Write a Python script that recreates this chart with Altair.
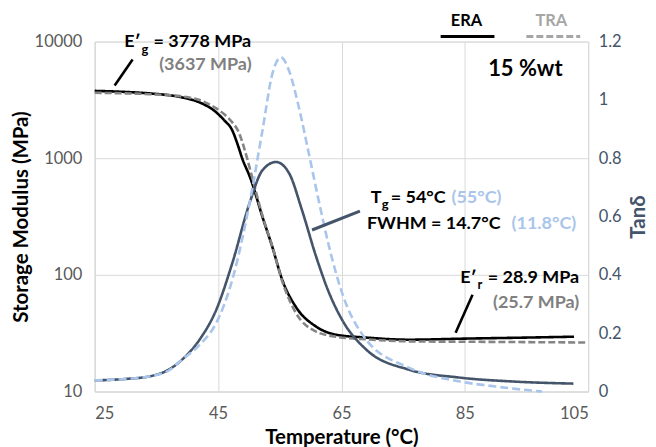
import altair as alt
import pandas as pd

# ---- data ----
T_mod_era = [25, 30, 33.9, 39.2, 42.0, 44.7, 46.0, 47.3, 48.1, 48.9, 50.3, 52.2, 53.8, 55.4, 57.6, 60.9, 64.1, 69.0, 75.9, 85, 95.3, 102.7]
E_mod_era = [3778, 3700, 3594, 3319, 3010, 2473, 2113, 1733, 1343, 1000, 660, 313, 173, 90.6, 53.2, 36.0, 30.7, 29.0, 27.8, 28.4, 29.0, 29.5]

T_mod_tra = [25, 30, 33.9, 39.2, 42.0, 44.7, 46.0, 47.3, 48.2, 49.7, 50.3, 52.2, 53.8, 55.4, 57.6, 60.9, 64.1, 69.0, 75.9, 85, 95, 104.8]
E_mod_tra = [3637, 3600, 3540, 3380, 3150, 2675, 2380, 2030, 1733, 1000, 760, 320, 175, 88, 47.3, 32.6, 29.5, 28.0, 26.9, 26.7, 26.5, 26.3]

T_tan_era = [25, 30, 33.9, 37, 39.2, 42.0, 44.7, 47.3, 50.1, 52.2, 54.4, 56.5, 58.6, 60.9, 63.0, 65.1, 69.0, 75.9, 84, 93, 102.6]
tan_era = [0.038, 0.043, 0.052, 0.075, 0.11, 0.178, 0.28, 0.44, 0.646, 0.759, 0.787, 0.749, 0.622, 0.462, 0.338, 0.246, 0.144, 0.075, 0.048, 0.034, 0.027]

T_tan_tra = [25, 30, 33.9, 37, 39.2, 42.0, 44.7, 47.3, 50.1, 52.2, 53.8, 55.2, 56.5, 58.1, 59.7, 61.4, 63.0, 65.1, 69.0, 75.9, 84, 90, 96, 97.5]
tan_tra = [0.038, 0.043, 0.052, 0.072, 0.11, 0.16, 0.235, 0.383, 0.646, 0.896, 1.09, 1.146, 1.10, 0.974, 0.817, 0.646, 0.496, 0.338, 0.178, 0.082, 0.035, 0.017, 0.003, 0.0]

x_ticks = [25, 45, 65, 85, 105]
y_left_ticks = [10, 100, 1000, 10000]
y_right_ticks = [0, 0.2, 0.4, 0.6, 0.8, 1, 1.2]

keys = ["E_ERA", "E_TRA", "tan_ERA", "tan_TRA"]
colors = ["#000000", "#858585", "#44546A", "#A9C5EB"]
dashes = [[1, 0], [7, 3], [1, 0], [8, 4]]

df_mod = pd.concat([
    pd.DataFrame({"T": T_mod_era, "v": E_mod_era, "key": "E_ERA"}),
    pd.DataFrame({"T": T_mod_tra, "v": E_mod_tra, "key": "E_TRA"}),
])
df_tan = pd.concat([
    pd.DataFrame({"T": T_tan_era, "v": tan_era, "key": "tan_ERA"}),
    pd.DataFrame({"T": T_tan_tra, "v": tan_tra, "key": "tan_TRA"}),
])

FONT = "Lato"
GRID = "#D9D9D9"
OX, OY = 95, 41  # page position of plot origin
TICK_FS = 16.5
TITLE_FS = 20.5

color_enc = alt.Color("key:N", scale=alt.Scale(domain=keys, range=colors), legend=None)
dash_enc = alt.StrokeDash("key:N", scale=alt.Scale(domain=keys, range=dashes), legend=None)

x_enc = alt.X("T:Q", scale=alt.Scale(domain=[25, 105], nice=False, zero=False),
              axis=alt.Axis(values=x_ticks, title="Temperature (°C)", grid=True, gridColor=GRID,
                            domainColor=GRID, ticks=False, tickSize=0, labelPadding=14,
                            labelFont=FONT, labelFontSize=TICK_FS, labelColor="#595959",
                            titleFont=FONT, titleFontSize=TITLE_FS, titleFontWeight="bold",
                            titleColor="#000000", titleY=46, titleBaseline="middle"))

mod = alt.Chart(df_mod).mark_line(interpolate="monotone", strokeWidth=2.6).encode(
    x=x_enc,
    y=alt.Y("v:Q", scale=alt.Scale(type="log", domain=[10, 10000], nice=False),
            axis=alt.Axis(values=y_left_ticks, format="d", title="Storage Modulus (MPa)",
                          grid=True, gridColor=GRID, domainColor=GRID, ticks=False, tickSize=0,
                          labelPadding=13, labelFont=FONT, labelFontSize=TICK_FS, labelColor="#595959",
                          titleFont=FONT, titleFontSize=TITLE_FS, titleFontWeight="bold",
                          titleColor="#000000", titleX=-73, titleY=175.5, titleAngle=270,
                          titleBaseline="middle", titleAlign="center")),
    color=color_enc, strokeDash=dash_enc, detail="key:N",
)

tan = alt.Chart(df_tan).mark_line(interpolate="monotone", strokeWidth=2.6).encode(
    x=x_enc,
    y=alt.Y("v:Q", scale=alt.Scale(domain=[0, 1.2], nice=False),
            axis=alt.Axis(orient="right", values=y_right_ticks, format="~g", title="Tanδ",
                          grid=False, domain=False, ticks=False, tickSize=0, labelPadding=10,
                          labelFont=FONT, labelFontSize=TICK_FS, labelColor="#44546A",
                          titleFont=FONT, titleFontSize=TITLE_FS, titleFontWeight="bold",
                          titleColor="#44546A", titleX=50, titleY=175.5, titleAngle=270,
                          titleBaseline="middle", titleAlign="center")),
    color=color_enc, strokeDash=dash_enc, detail="key:N",
)

one = pd.DataFrame({"k": [0]})


def txt(s, px, py, size=18, color="#000000", align="left"):
    return alt.Chart(one).mark_text(text=s, font=FONT, fontSize=size, fontWeight="bold",
                                    color=color, align=align, baseline="middle").encode(
        x=alt.value(px - OX), y=alt.value(py - OY))


def seg(x1, y1, x2, y2, color="#000000", width=2.6, dash=None):
    kw = dict(color=color, strokeWidth=width)
    if dash is not None:
        kw["strokeDash"] = dash
    return alt.Chart(one).mark_rule(**kw).encode(
        x=alt.value(x1 - OX), y=alt.value(y1 - OY), x2=alt.value(x2 - OX), y2=alt.value(y2 - OY))


GRAY = "#808080"
LBLUE = "#A9C5EB"
SLATE = "#44546A"

annots = [
    # glassy modulus
    txt("E′", 141, 41, align="right"),
    txt("g", 142, 49, size=13),
    txt("= 3778 MPa", 154, 41),
    txt("(3637 MPa)", 206, 65, color=GRAY, align="center"),
    seg(115, 85, 133, 59),
    # legend
    txt("ERA", 468, 20, size=16.5, align="center"),
    txt("TRA", 553, 20, size=16.5, color="#A6A6A6", align="center"),
    seg(442, 36, 496, 36, width=3),
    seg(528, 36, 582, 36, color="#A6A6A6", width=3, dash=[7, 3]),
    txt("15 %wt", 527, 69, size=22, align="center"),
    # Tg / FWHM
    txt("T", 372, 198),
    txt("g", 383, 205, size=13),
    txt("= 54°C", 392, 198),
    txt("(55°C)", 503, 198, color=LBLUE, align="right"),
    txt("FWHM = 14.7°C", 368, 224),
    txt("(11.8°C)", 578, 224, color=LBLUE, align="right"),
    seg(313, 230, 361, 211, color=SLATE, width=3),
    # rubbery modulus
    txt("E′", 478, 278, align="right"),
    txt("r", 479, 285, size=13),
    txt("= 28.9 MPa", 581, 278, align="right"),
    txt("(25.7 MPa)", 581, 303, color=GRAY, align="right"),
    seg(457, 333, 474, 295),
]

chart = alt.layer(mod, tan, *annots).resolve_scale(y="independent").properties(
    width=495, height=351,
    padding={"left": 87, "top": 33, "right": 60, "bottom": 55},
    autosize=alt.AutoSizeParams(type="none"),
).configure_view(stroke=GRID).configure(background="white")

chart.save("out.html", embed_options={"renderer": "svg", "actions": False})
